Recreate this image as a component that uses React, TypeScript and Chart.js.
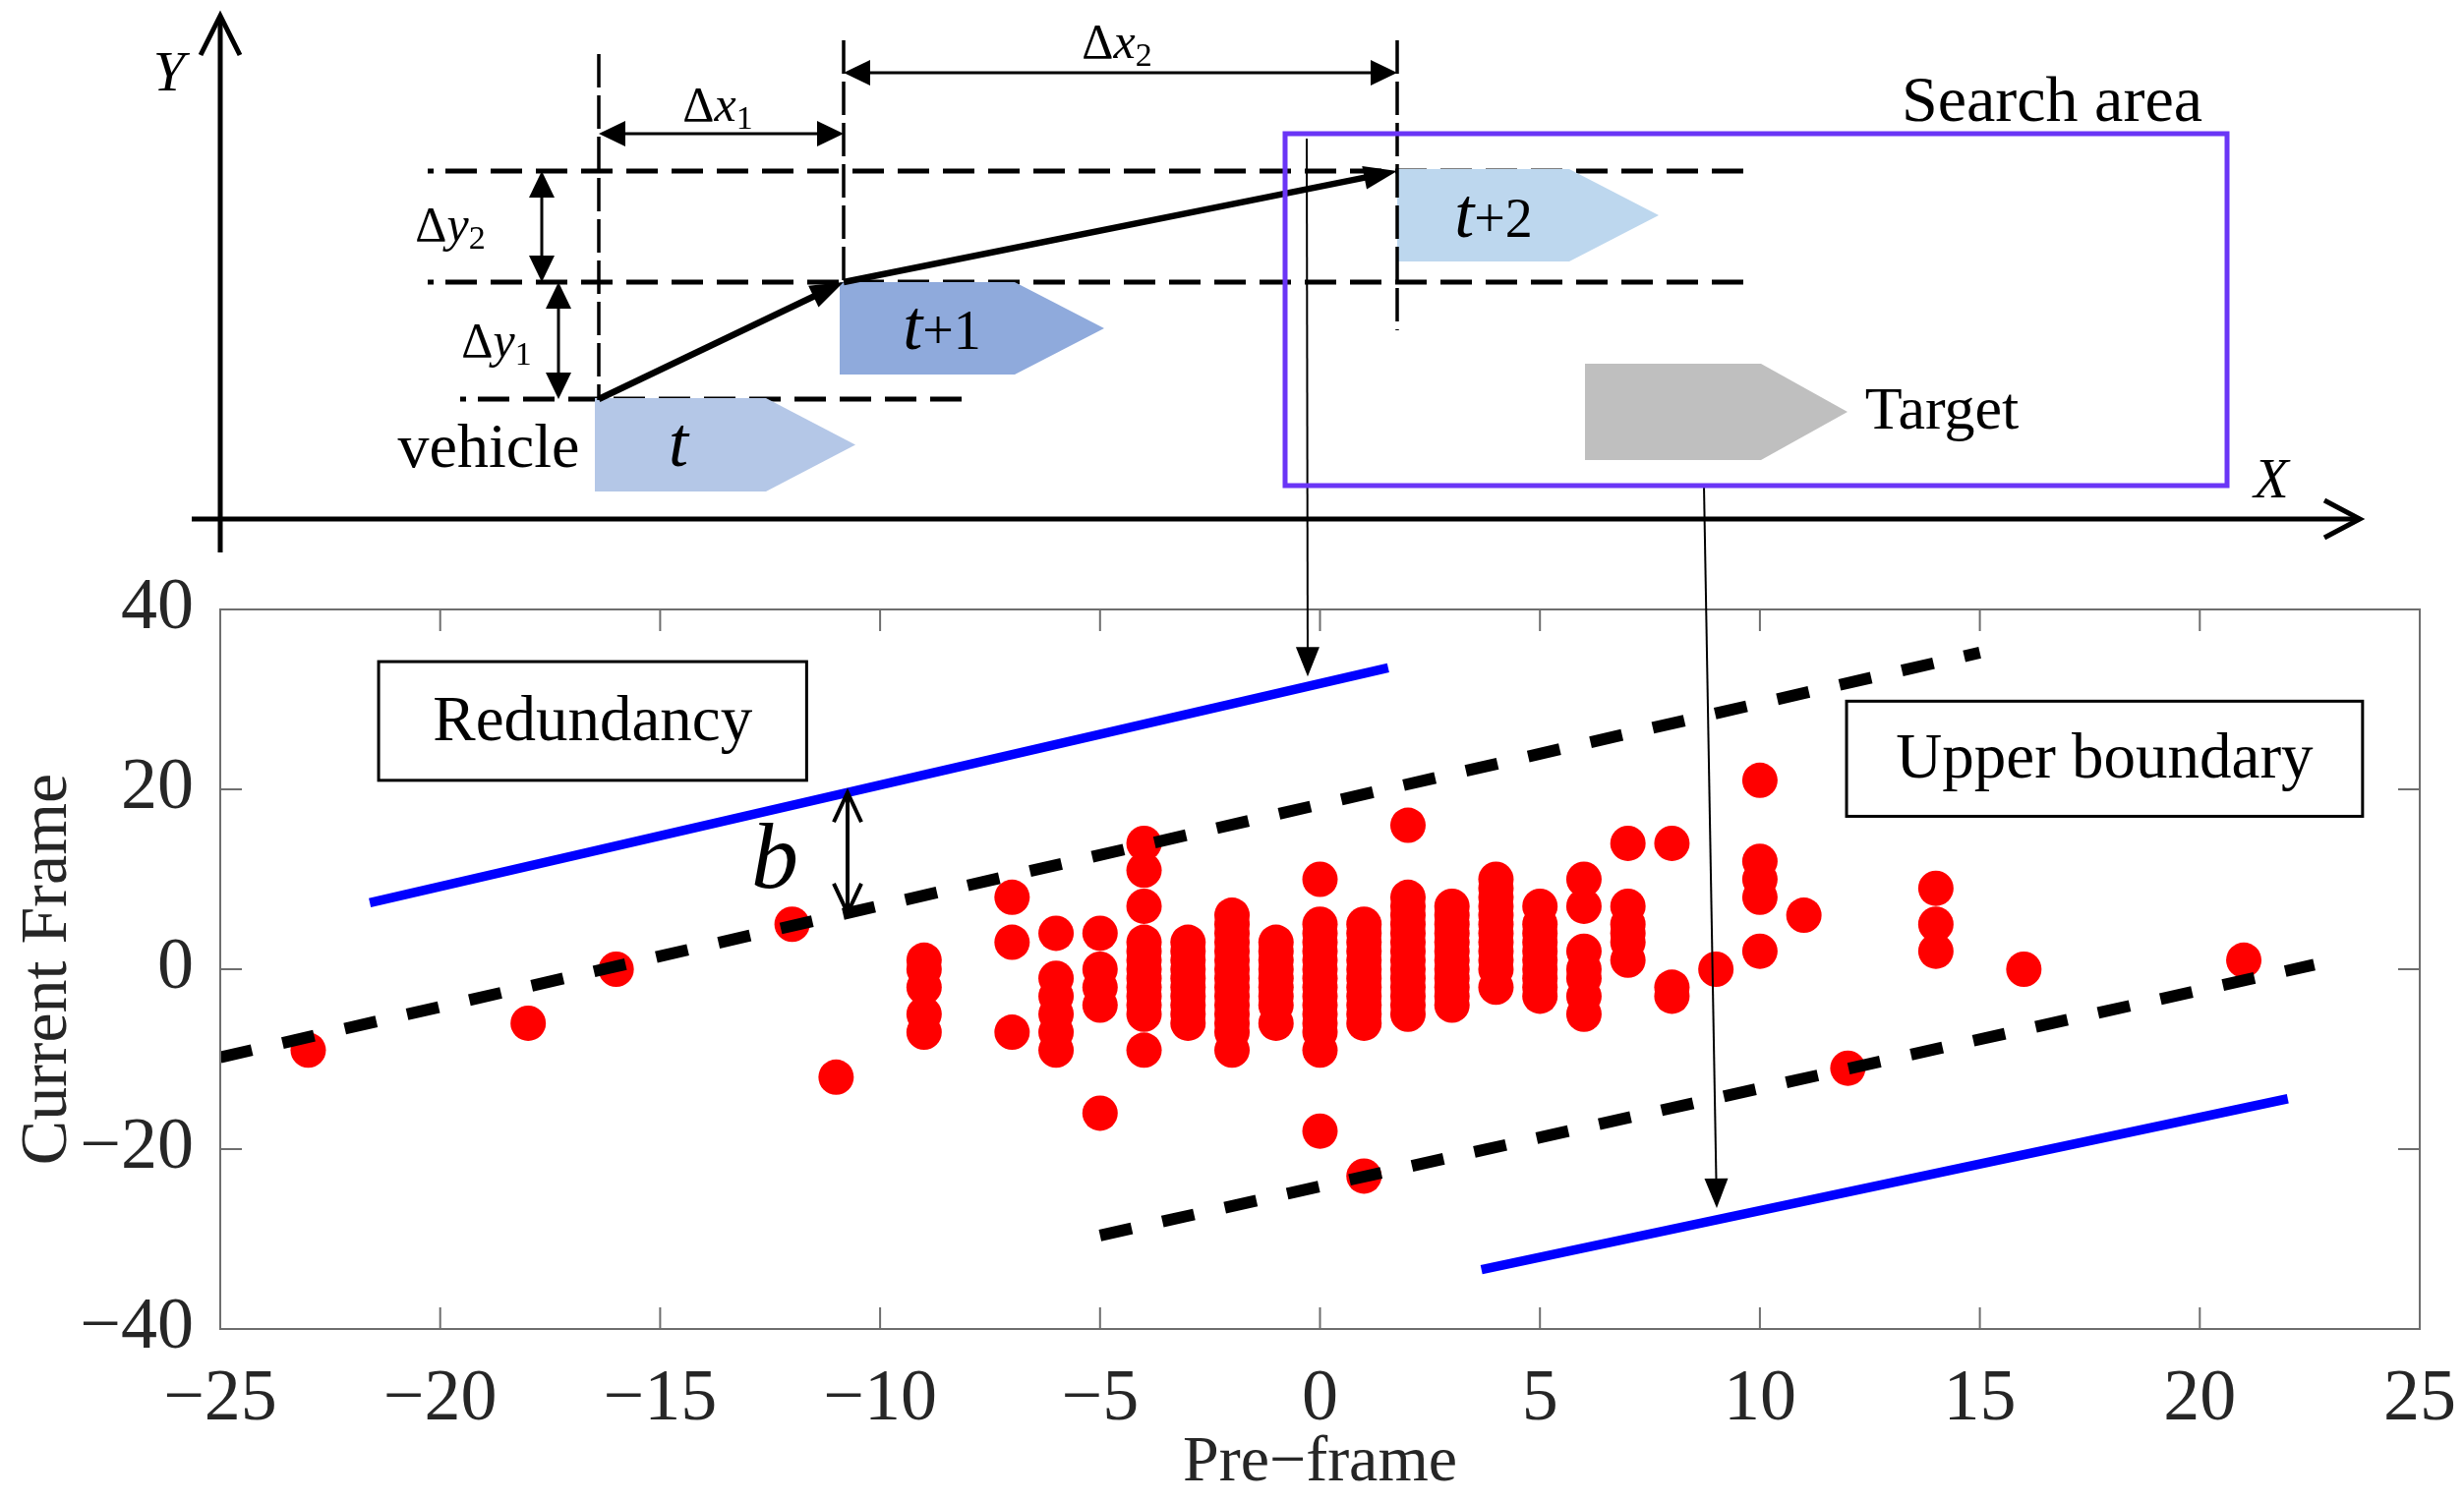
import React, { useEffect, useRef } from "react";
import { Chart, registerables } from "chart.js";

Chart.register(...registerables);

// ---------------- DATA ----------------
const preFrame = [-23, -18, -16, -12, -11, -9, -7, -6, -5, -4, -3, -2, -1, 0, 1, 2, 3, 4, 5, 6, 7, 8, 9, 10, 11, 12, 14, 16, 21];
const currentFrame = [
  [-9],
  [-6],
  [0],
  [5],
  [-12],
  [1, 0, -2, -5, -7],
  [8, 3, -7],
  [4, -1, -3, -5, -7, -9],
  [4, 0, -2, -4, -16],
  [14, 11, 7, 3, 2, 1, 0, -1, -2, -3, -4, -5, -9],
  [3, 2, 1, 0, -1, -2, -3, -4, -5, -6],
  [6, 5, 4, 3, 2, 1, 0, -1, -2, -3, -4, -5, -6, -7, -9],
  [3, 2, 1, 0, -1, -2, -3, -4, -6],
  [10, 5, 4, 3, 2, 1, 0, -1, -2, -3, -4, -5, -6, -7, -9, -18],
  [5, 4, 3, 2, 1, 0, -1, -2, -3, -4, -5, -6, -23],
  [16, 8, 7, 6, 5, 4, 3, 2, 1, 0, -1, -2, -3, -4, -5],
  [7, 6, 5, 4, 3, 2, 1, 0, -1, -2, -3, -4],
  [10, 9, 8, 7, 6, 5, 4, 3, 2, 1, 0, -2],
  [7, 5, 4, 3, 2, 1, 0, -1, -2, -3],
  [10, 7, 2, 0, -1, -3, -5],
  [14, 7, 5, 4, 3, 1],
  [14, -2, -3],
  [0],
  [21, 12, 10, 8, 2],
  [6],
  [-11],
  [9, 5, 2],
  [0],
  [1],
];

const upperRedundancyX = [-21.6, 1.55];
const upperRedundancyY = [7.4, 33.5];
const upperBoundaryX = [-25, 15];
const upperBoundaryY = [-9.8, 35.2];
const lowerBoundaryX = [-5, 22.6];
const lowerBoundaryY = [-29.6, 0.5];
const lowerRedundancyX = [3.67, 22];
const lowerRedundancyY = [-33.4, -14.4];

const xMin = -25, xMax = 25, xStep = 5;
const yMin = -40, yMax = 40, yStep = 20;
const bOffsetX = -10.74;

const redundancyBox = { x0: -21.4, x1: -11.67, y0: 34.2, y1: 21.0, text: "Redundancy" };
const upperBoundaryBox = { x0: 11.97, x1: 23.7, y0: 29.8, y1: 17.0, text: "Upper boundary" };

// ---------------- HELPERS ----------------
const SERIF = '"Liberation Serif", "Times New Roman", serif';

const scatterPoints = preFrame.flatMap((x, i) => currentFrame[i].map((y) => ({ x, y })));
const seg = (xs: number[], ys: number[]) => [
  { x: xs[0], y: ys[0] },
  { x: xs[1], y: ys[1] },
];
const lineAt = (xs: number[], ys: number[], v: number) => ys[0] + ((v - xs[0]) * (ys[1] - ys[0])) / (xs[1] - xs[0]);

function head(ctx: CanvasRenderingContext2D, fx: number, fy: number, tx: number, ty: number, len: number, hw: number, filled: boolean) {
  const a = Math.atan2(ty - fy, tx - fx);
  const bx = tx - len * Math.cos(a);
  const by = ty - len * Math.sin(a);
  const px = -Math.sin(a) * hw;
  const py = Math.cos(a) * hw;
  ctx.beginPath();
  ctx.moveTo(bx + px, by + py);
  ctx.lineTo(tx, ty);
  ctx.lineTo(bx - px, by - py);
  if (filled) {
    ctx.closePath();
    ctx.fill();
  } else ctx.stroke();
}

function arrow(ctx: CanvasRenderingContext2D, fx: number, fy: number, tx: number, ty: number, lw: number, len: number, hw: number, both = false, filled = true) {
  const a = Math.atan2(ty - fy, tx - fx);
  const cut = filled ? len * 0.8 : 0;
  ctx.save();
  ctx.lineWidth = lw;
  ctx.strokeStyle = "#000";
  ctx.fillStyle = "#000";
  ctx.beginPath();
  ctx.moveTo(fx + (both ? cut * Math.cos(a) : 0), fy + (both ? cut * Math.sin(a) : 0));
  ctx.lineTo(tx - cut * Math.cos(a), ty - cut * Math.sin(a));
  ctx.stroke();
  head(ctx, fx, fy, tx, ty, len, hw, filled);
  if (both) head(ctx, tx, ty, fx, fy, len, hw, filled);
  ctx.restore();
}

function dashed(ctx: CanvasRenderingContext2D, x0: number, y0: number, x1: number, y1: number, lw: number, dash: number[], dot = false) {
  ctx.save();
  ctx.strokeStyle = "#000";
  ctx.lineWidth = lw;
  ctx.lineCap = "butt";
  if (dot) {
    ctx.beginPath();
    ctx.moveTo(x0, y0);
    ctx.lineTo(x0 + 6, y0);
    ctx.stroke();
    x0 += 18;
  }
  ctx.setLineDash(dash);
  ctx.beginPath();
  ctx.moveTo(x0, y0);
  ctx.lineTo(x1, y1);
  ctx.stroke();
  ctx.restore();
}

function pentagon(ctx: CanvasRenderingContext2D, x0: number, y0: number, y1: number, xr: number, xt: number, fill: string) {
  ctx.save();
  ctx.fillStyle = fill;
  ctx.beginPath();
  ctx.moveTo(x0, y0);
  ctx.lineTo(xr, y0);
  ctx.lineTo(xt, (y0 + y1) / 2);
  ctx.lineTo(xr, y1);
  ctx.lineTo(x0, y1);
  ctx.closePath();
  ctx.fill();
  ctx.restore();
}

type Part = { t: string; f: string; dy?: number };
function rich(ctx: CanvasRenderingContext2D, parts: Part[], cx: number, cy: number) {
  ctx.save();
  ctx.fillStyle = "#000";
  ctx.textBaseline = "middle";
  ctx.textAlign = "left";
  let w = 0;
  for (const p of parts) {
    ctx.font = p.f;
    w += ctx.measureText(p.t).width;
  }
  let x = cx - w / 2;
  for (const p of parts) {
    ctx.font = p.f;
    ctx.fillText(p.t, x, cy + (p.dy || 0));
    x += ctx.measureText(p.t).width;
  }
  ctx.restore();
}

function text(ctx: CanvasRenderingContext2D, s: string, font: string, x: number, y: number, align: CanvasTextAlign = "center", base: CanvasTextBaseline = "middle") {
  ctx.save();
  ctx.fillStyle = "#000";
  ctx.font = font;
  ctx.textAlign = align;
  ctx.textBaseline = base;
  ctx.fillText(s, x, y);
  ctx.restore();
}

// ---------------- PLUGINS ----------------
const axesBoxPlugin = {
  id: "axesBox",
  afterDatasetsDraw(chart: any) {
    const { ctx, chartArea: ca, scales } = chart;
    const xs = scales.x, ys = scales.y;
    ctx.save();
    ctx.strokeStyle = "#6e6e6e";
    ctx.lineWidth = 2;
    ctx.strokeRect(ca.left, ca.top, ca.right - ca.left, ca.bottom - ca.top);
    const tl = 22;
    ctx.beginPath();
    for (let v = xMin; v <= xMax; v += xStep) {
      const px = xs.getPixelForValue(v);
      ctx.moveTo(px, ca.bottom);
      ctx.lineTo(px, ca.bottom - tl);
      ctx.moveTo(px, ca.top);
      ctx.lineTo(px, ca.top + tl);
    }
    for (let v = yMin; v <= yMax; v += yStep) {
      const py = ys.getPixelForValue(v);
      ctx.moveTo(ca.left, py);
      ctx.lineTo(ca.left + tl, py);
      ctx.moveTo(ca.right, py);
      ctx.lineTo(ca.right - tl, py);
    }
    ctx.stroke();
    ctx.restore();

    // annotation boxes
    for (const b of [redundancyBox, upperBoundaryBox]) {
      const x0 = xs.getPixelForValue(b.x0), x1 = xs.getPixelForValue(b.x1);
      const y0 = ys.getPixelForValue(b.y0), y1 = ys.getPixelForValue(b.y1);
      ctx.save();
      ctx.fillStyle = "#fff";
      ctx.fillRect(x0, y0, x1 - x0, y1 - y0);
      ctx.strokeStyle = "#000";
      ctx.lineWidth = 3;
      ctx.strokeRect(x0, y0, x1 - x0, y1 - y0);
      ctx.restore();
      text(ctx, b.text, `65px ${SERIF}`, (x0 + x1) / 2, (y0 + y1) / 2 + 2);
    }

    // b arrow
    const bx = xs.getPixelForValue(bOffsetX);
    const bTop = ys.getPixelForValue(lineAt(upperRedundancyX, upperRedundancyY, bOffsetX));
    const bBot = ys.getPixelForValue(lineAt(upperBoundaryX, upperBoundaryY, bOffsetX));
    arrow(ctx, bx, bBot, bx, bTop, 4, 30, 14, true, false);
    text(ctx, "b", `italic 96px ${SERIF}`, bx - 74, (bTop + bBot) / 2 + 10);

    // thin arrows from search area to redundancy lines
    const a1x = 1330;
    const a1y = ys.getPixelForValue(lineAt(upperRedundancyX, upperRedundancyY, xs.getValueForPixel(a1x))) - 10;
    arrow(ctx, a1x - 1, 141, a1x, a1y, 2, 30, 12);
    const a2x = 1746;
    const a2y = ys.getPixelForValue(lineAt(lowerRedundancyX, lowerRedundancyY, xs.getValueForPixel(a2x))) - 12;
    arrow(ctx, 1733, 494, a2x, a2y, 2, 30, 12);
  },
};

const schematicPlugin = {
  id: "schematic",
  afterDraw(chart: any) {
    const ctx: CanvasRenderingContext2D = chart.ctx;
    // axes
    ctx.save();
    ctx.strokeStyle = "#000";
    ctx.lineWidth = 5;
    ctx.beginPath();
    ctx.moveTo(224, 562);
    ctx.lineTo(224, 18);
    ctx.moveTo(195, 528);
    ctx.lineTo(2398, 528);
    ctx.stroke();
    head(ctx, 224, 100, 224, 16, 40, 20, false);
    head(ctx, 2300, 528, 2400, 528, 36, 19, false);
    ctx.restore();
    text(ctx, "Y", `italic 58px ${SERIF}`, 172, 77);
    text(ctx, "X", `italic 58px ${SERIF}`, 2310, 491);

    // horizontal guide lines
    dashed(ctx, 435, 174, 1775, 174, 5, [32, 14], true);
    dashed(ctx, 435, 287, 1775, 287, 5, [32, 14], true);
    dashed(ctx, 468, 406, 991, 406, 5, [32, 14], true);

    // vehicles
    pentagon(ctx, 605, 405, 500, 779, 870, "#b4c7e7");
    pentagon(ctx, 854, 287, 381, 1032, 1123, "#8faadc");
    pentagon(ctx, 1421, 172, 266, 1596, 1687, "#bdd7ee");
    pentagon(ctx, 1612, 370, 468, 1791, 1879, "#bfbfbf");

    // vertical guide lines
    dashed(ctx, 609, 55, 609, 407, 3.5, [34, 8]);
    dashed(ctx, 858, 41, 858, 287, 3.5, [34, 8]);
    dashed(ctx, 1421, 41, 1421, 336, 3.5, [34, 8]);

    // trajectory
    arrow(ctx, 609, 406, 858, 287, 6.5, 34, 12);
    arrow(ctx, 858, 287, 1421, 174, 6.5, 34, 12);

    // delta arrows
    arrow(ctx, 609, 136, 858, 136, 3, 27, 13, true);
    arrow(ctx, 858, 74, 1421, 74, 3, 27, 13, true);
    arrow(ctx, 551, 174, 551, 287, 3, 27, 13, true);
    arrow(ctx, 568, 287, 568, 406, 3, 27, 13, true);

    const df = `50px ${SERIF}`, dfi = `italic 50px ${SERIF}`, ds = `34px ${SERIF}`;
    rich(ctx, [{ t: "\u0394", f: df }, { t: "x", f: dfi }, { t: "1", f: ds, dy: 12 }], 730, 110);
    rich(ctx, [{ t: "\u0394", f: df }, { t: "x", f: dfi }, { t: "2", f: ds, dy: 12 }], 1136, 46);
    rich(ctx, [{ t: "\u0394", f: df }, { t: "y", f: dfi }, { t: "2", f: ds, dy: 12 }], 458, 232);
    rich(ctx, [{ t: "\u0394", f: df }, { t: "y", f: dfi }, { t: "1", f: ds, dy: 12 }], 505, 350);

    // labels on vehicles
    const tf = `italic 72px ${SERIF}`, pf = `56px ${SERIF}`;
    rich(ctx, [{ t: "t", f: tf }], 690, 455);
    rich(ctx, [{ t: "t", f: tf }, { t: "+1", f: pf, dy: 4 }], 958, 336);
    rich(ctx, [{ t: "t", f: tf }, { t: "+2", f: pf, dy: 4 }], 1519, 222);
    text(ctx, "vehicle", `64px ${SERIF}`, 497, 458);
    text(ctx, "Target", `62px ${SERIF}`, 1975, 420);

    // search area
    ctx.save();
    ctx.strokeStyle = "#6a35f6";
    ctx.lineWidth = 5;
    ctx.strokeRect(1307, 136, 2265 - 1307, 494 - 136);
    ctx.restore();
    text(ctx, "Search area", `66px ${SERIF}`, 2087, 123, "center", "alphabetic");
  },
};

// ---------------- COMPONENT ----------------
export default function App() {
  const ref = useRef<HTMLCanvasElement>(null);
  useEffect(() => {
    if (!ref.current) return;
    Chart.defaults.font.family = SERIF;
    const tickFmt = (v: any) => (Number(v) < 0 ? "\u2212" + Math.abs(Number(v)) : String(v));
    const lineDs = (label: string, xs: number[], ys: number[], color: string, width: number, dash: number[]) => ({
      type: "scatter" as const,
      label,
      data: seg(xs, ys),
      showLine: true,
      borderColor: color,
      backgroundColor: color,
      borderWidth: width,
      borderDash: dash,
      borderCapStyle: "butt" as const,
      pointRadius: 0,
      pointHoverRadius: 0,
      order: 1,
    });
    const chart = new Chart(ref.current, {
      type: "scatter",
      data: {
        datasets: [
          {
            label: "samples",
            data: scatterPoints,
            backgroundColor: "#ff0000",
            borderWidth: 0,
            pointRadius: 18,
            pointHoverRadius: 18,
            order: 2,
          },
          lineDs("upper redundancy", upperRedundancyX, upperRedundancyY, "#0000ff", 9.5, []),
          lineDs("lower redundancy", lowerRedundancyX, lowerRedundancyY, "#0000ff", 9.5, []),
          lineDs("upper boundary", upperBoundaryX, upperBoundaryY, "#000000", 12, [33, 32]),
          lineDs("lower boundary", lowerBoundaryX, lowerBoundaryY, "#000000", 12, [33, 32]),
        ] as any,
      },
      options: {
        animation: false,
        responsive: false,
        maintainAspectRatio: false,
        events: [],
        layout: { padding: { top: 620, right: 45, left: 0, bottom: 0 } },
        plugins: { legend: { display: false }, tooltip: { enabled: false } },
        scales: {
          x: {
            type: "linear",
            min: xMin,
            max: xMax,
            grid: { display: false, drawTicks: false },
            border: { display: false },
            ticks: {
              stepSize: xStep,
              autoSkip: false,
              maxRotation: 0,
              padding: 28,
              color: "#262626",
              font: { size: 74, family: SERIF },
              callback: tickFmt,
            },
            title: {
              display: true,
              text: "Pre\u2212frame",
              color: "#262626",
              font: { size: 66, family: SERIF },
              padding: { top: 0, bottom: 0 },
            },
            afterFit: (s: any) => {
              s.height = 176;
              s.paddingLeft = 0;
              s.paddingRight = 0;
            },
          },
          y: {
            type: "linear",
            min: yMin,
            max: yMax,
            grid: { display: false, drawTicks: false },
            border: { display: false },
            ticks: {
              stepSize: yStep,
              autoSkip: false,
              padding: 27,
              color: "#262626",
              font: { size: 74, family: SERIF },
              callback: tickFmt,
            },
            title: {
              display: true,
              text: "Current Frame",
              color: "#262626",
              font: { size: 68, family: SERIF },
              padding: { top: 8, bottom: 0 },
            },
            afterFit: (s: any) => {
              s.width = 224;
              s.paddingTop = 0;
              s.paddingBottom = 0;
            },
          },
        },
      },
      plugins: [axesBoxPlugin, schematicPlugin],
    } as any);
    return () => chart.destroy();
  }, []);
  return (
    <div style={{ position: "fixed", left: 0, top: 0, width: 2506, height: 1528, background: "#fff" }}>
      <canvas ref={ref} width={2506} height={1528} style={{ width: 2506, height: 1528, display: "block" }} />
    </div>
  );
}
